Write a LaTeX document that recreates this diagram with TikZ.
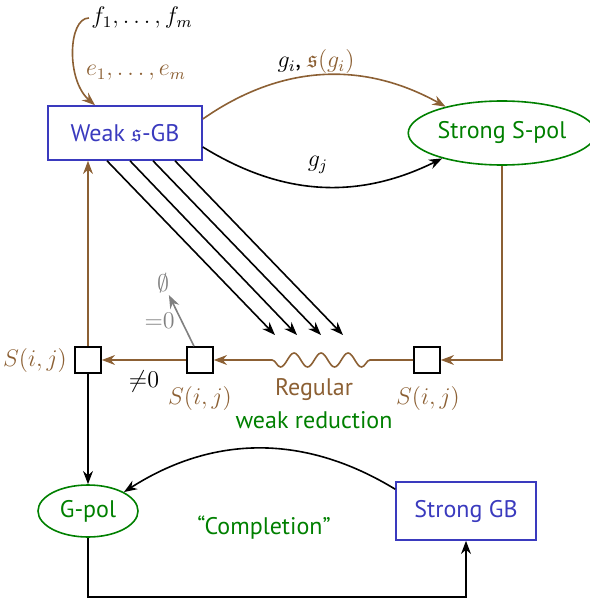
\documentclass[tikz,border=0pt]{standalone}
\usepackage{amssymb}
\usepackage{fontspec}
\setmainfont{PT Sans}
\usetikzlibrary{arrows.meta,shapes.geometric,decorations.pathmorphing}
\definecolor{umber}{RGB}{140,96,52}
\definecolor{gbblue}{RGB}{58,58,190}
\definecolor{polgreen}{RGB}{0,128,0}

\begin{document}
\begin{tikzpicture}[x=0.5pt,y=-0.5pt,>=Stealth,font=\large,
  gb/.style={draw=gbblue,thick,text=gbblue,minimum width=77pt,minimum height=27pt,inner sep=2pt},
  pol/.style={draw=polgreen,thick,ellipse,text=polgreen,inner sep=1pt},
  sq/.style={draw,thick,minimum size=13pt,inner sep=0pt},
  lab/.style={inner sep=1pt}]
  \useasboundingbox (0,0) rectangle (589,599);
  \node[gb]  (weak) at (125,133) {Weak $\mathfrak{s}$-GB};
  \node[pol,minimum width=85pt,minimum height=32pt] (spol) at (502,133) {Strong S-pol};
  \node[pol,minimum width=50pt,minimum height=26pt] (gpol) at (88,511) {G-pol};
  \node[gb,minimum width=70pt,minimum height=29pt]  (sgb)  at (466,511) {Strong GB};
  \node[sq] (s1) at (88,360) {};
  \node[sq] (s2) at (200,360) {};
  \node[sq] (s3) at (427,360) {};
  \node[lab] (fs) at (142,18) {$f_1,\dots,f_m$};
  \node[lab,text=umber] (es) at (136,73) {$e_1,\dots,e_m$};
  \node[lab] (gi) at (316,62) {$g_i$, \textcolor{umber}{$\mathfrak{s}(g_i)$}};
  \node[lab] (gj) at (318,165) {$g_j$};
  \node[lab,text=umber] (sl) at (35,360) {$S(i,j)$};
  \node[lab,text=umber] (sm) at (200,398) {$S(i,j)$};
  \node[lab,text=umber] (sr) at (428,398) {$S(i,j)$};
  \node[lab,text=umber] (reg) at (314,390) {Regular};
  \node[lab,text=polgreen] (wred) at (314,420) {weak reduction};
  \node[lab,text=gray] (empty) at (163,283) {$\emptyset$};
  \node[lab,text=polgreen] (compl) at (264,528) {``Completion''};
  \coordinate (hit) at (309,335);
  \coordinate (wr) at (370,360);
  \coordinate (wl) at (262,360);
  \coordinate (base) at (0,597);
  % input
  \draw[->,thick,umber] (fs.west) .. controls (68,18) and (66,80) .. ([xshift=-15pt]weak.north);
  % to the S-polynomials
  \draw[->,thick,umber] ([yshift=7pt]weak.east) to[bend left=32] (spol.155);
  \draw[->,thick] ([yshift=-7pt]weak.east) to[bend right=29] (spol.203);
  \foreach \a/\b in {-18/-34,5/-12,28/12,50/34}
    \draw[->,thick] ([xshift=\a*0.5pt]weak.south) -- ([xshift=\b*0.5pt]hit);
  % reduction chain
  \draw[->,thick,umber] (spol.south) |- (s3.east);
  \draw[->,thick,umber] (s3.west) -- (wr)
    decorate[decoration={snake,amplitude=3.5pt,segment length=13.5pt}] {-- (wl)} -- (s2.east);
  \draw[->,thick,umber] (s2.west) -- (s1.east) node[lab,midway,below=4pt,text=black]{${\neq}0$};
  \draw[->,thick,gray] ([xshift=-3pt]s2.north) -- (empty) node[lab,midway,left=2pt]{${=}0$};
  \draw[->,thick,umber] (s1.north) -- (s1 |- weak.south);
  \draw[->,thick] (s1.south) -- (gpol.north);
  % completion
  \draw[->,thick] ([yshift=-4pt]sgb.north west) to[bend right=32] (gpol.north east);
  \draw[->,thick] (gpol.south) -- (gpol.south |- base) -| (sgb.south);
\end{tikzpicture}
\end{document}
